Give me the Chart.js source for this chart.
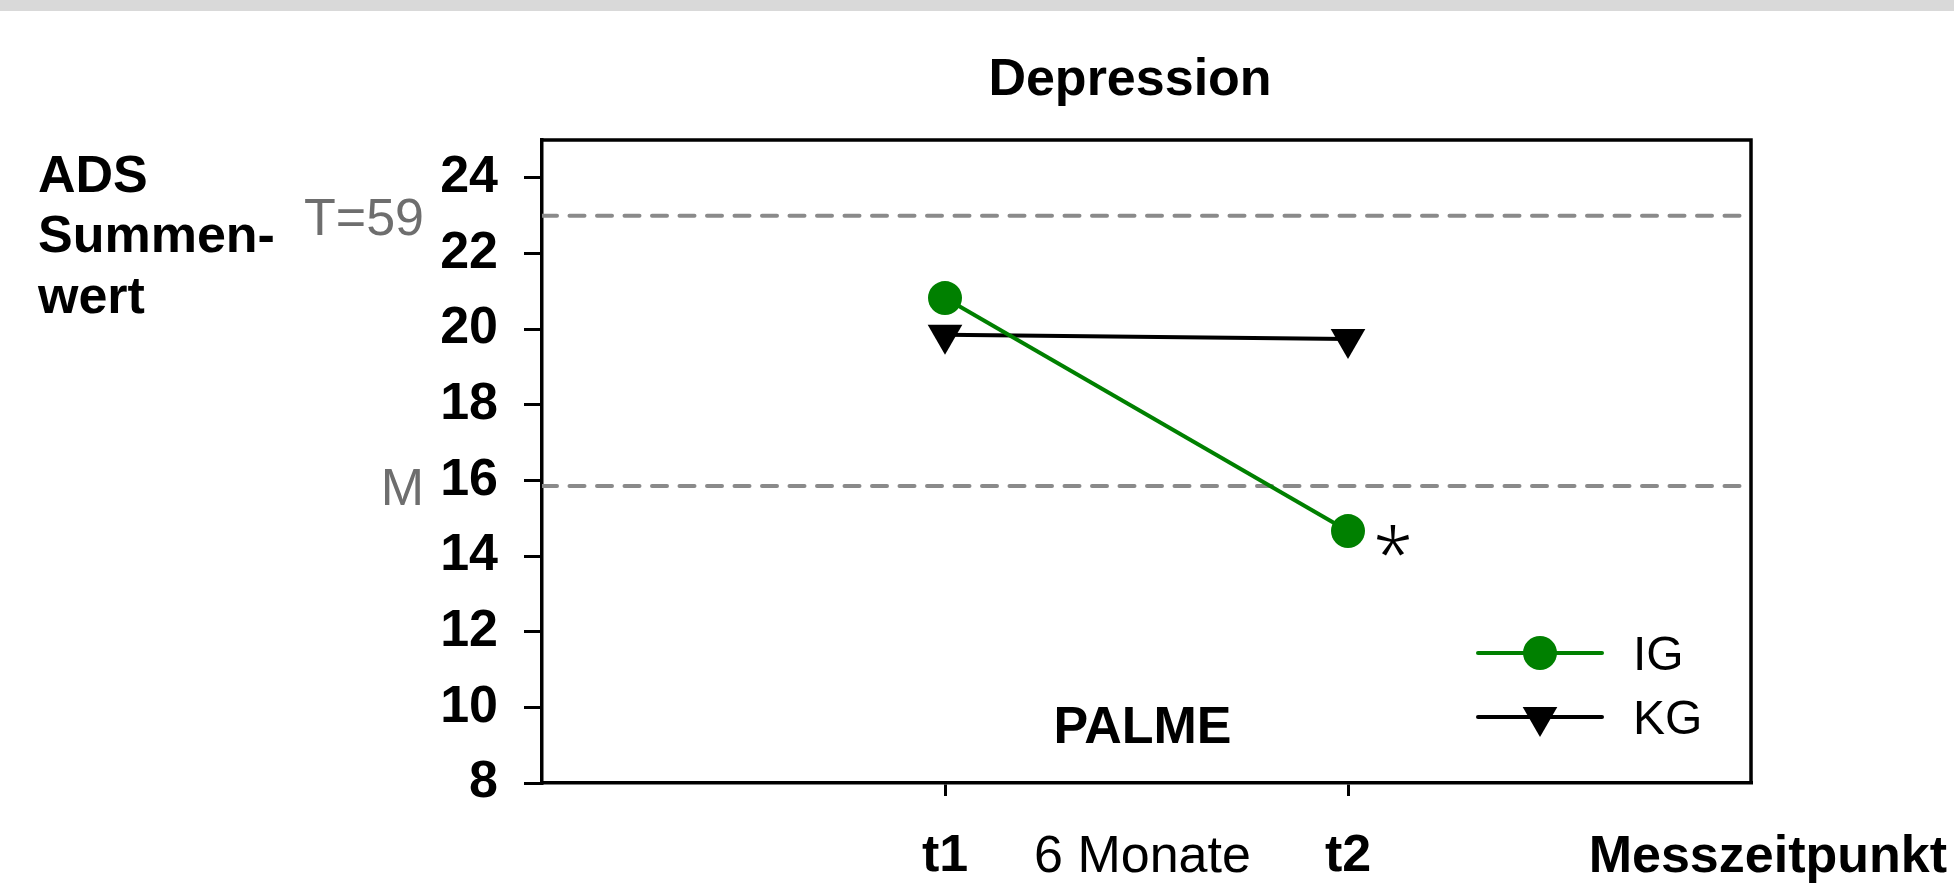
<!DOCTYPE html>
<html>
<head>
<meta charset="utf-8">
<script src="https://cdn.jsdelivr.net/npm/chart.js@4.4.1/dist/chart.umd.min.js"></script>
<style>
  html, body { margin: 0; padding: 0; background: #fff; }
  #wrap { width: 1954px; height: 892px; }
</style>
</head>
<body>
<div id="wrap"><canvas id="depressionChart" width="1954" height="892"></canvas></div>
<script>
// values
const X_POS = [1, 2];
const X_LABELS = ['t1', 't2'];
const IG_VALUES = [20.82, 14.66];
const KG_VALUES = [19.85, 19.74];
const Y_TICKS = [8, 10, 12, 14, 16, 18, 20, 22, 24];
const REF_VALUES = [23, 15.85];
const REF_LABELS = ['T=59', 'M'];
const SERIES_NAMES = ['IG', 'KG'];

const FONT = "'Liberation Sans', Arial, sans-serif";
const GREEN = '#008000';
const GREY_LINE = '#8a8a8a';
const GREY_TEXT = '#6e6e6e';

function pts(values) {
  return values.map((v, i) => ({x: X_POS[i], y: v}));
}

function text(ctx, str, x, y, size, bold, color, align) {
  ctx.save();
  ctx.font = (bold ? 'bold ' : '') + size + 'px ' + FONT;
  ctx.fillStyle = color || '#000';
  ctx.textAlign = align || 'left';
  ctx.textBaseline = 'alphabetic';
  ctx.fillText(str, x, y);
  ctx.restore();
}

// frame, texts and legend that the library does not draw by itself
const extras = {
  id: 'extras',
  beforeDraw(chart) {
    const ctx = chart.ctx;
    ctx.save();
    ctx.fillStyle = '#fff';
    ctx.fillRect(0, 0, chart.width, chart.height);
    ctx.fillStyle = '#d9d9d9';
    ctx.fillRect(0, 0, chart.width, 11);
    ctx.restore();
  },
  afterDraw(chart) {
    const ctx = chart.ctx;
    const a = chart.chartArea;
    const xs = chart.scales.x, ys = chart.scales.y;

    // top and right side of the box
    ctx.save();
    ctx.strokeStyle = '#000';
    ctx.lineWidth = 3.5;
    ctx.beginPath();
    ctx.moveTo(a.left, a.top);
    ctx.lineTo(a.right, a.top);
    ctx.lineTo(a.right, a.bottom);
    ctx.stroke();
    ctx.restore();

    text(ctx, 'Depression', 1130, 95, 52, true, '#000', 'center');
    text(ctx, 'ADS', 38, 192, 52, true);
    text(ctx, 'Summen-', 38, 252, 52, true);
    text(ctx, 'wert', 38, 313, 52, true);

    REF_LABELS.forEach((lab, i) => {
      text(ctx, lab, 424, ys.getPixelForValue(REF_VALUES[i]) + 19, 52, false, GREY_TEXT, 'right');
    });

    text(ctx, 'PALME', xs.getPixelForValue(1.49), 743, 52, true, '#000', 'center');
    text(ctx, '6 Monate', xs.getPixelForValue(1.49), 872, 52, false, '#000', 'center');
    text(ctx, 'Messzeitpunkt', 1947, 872, 52, true, '#000', 'right');

    // significance mark next to IG at t2
    ctx.save();
    ctx.font = "300 72px 'Noto Sans', " + FONT;
    const m = ctx.measureText('*');
    const cy = ys.getPixelForValue(IG_VALUES[1]) + 9;
    ctx.fillStyle = '#000';
    ctx.textAlign = 'center';
    ctx.fillText('*', xs.getPixelForValue(2) + 45, cy + (m.actualBoundingBoxAscent - m.actualBoundingBoxDescent) / 2);
    ctx.restore();

    // legend: line with marker through it
    const rows = [653, 717];
    chart.data.datasets.slice(0, 2).forEach((ds, i) => {
      const y = rows[i];
      ctx.save();
      ctx.strokeStyle = ds.borderColor;
      ctx.lineWidth = 4;
      ctx.lineCap = 'round';
      ctx.beginPath();
      ctx.moveTo(1478, y);
      ctx.lineTo(1602, y);
      ctx.stroke();
      ctx.fillStyle = ds.pointBackgroundColor;
      Chart.helpers.drawPoint(ctx, {
        pointStyle: ds.pointStyle, radius: ds.pointRadius, rotation: ds.pointRotation, borderWidth: 0
      }, 1540, y);
      ctx.restore();
      text(ctx, SERIES_NAMES[i], 1633, y + 17, 48, false, '#000', 'left');
    });
  }
};

const refSets = REF_VALUES.map(v => ({
  data: [{x: 0, y: v}, {x: 3, y: v}],
  borderColor: GREY_LINE,
  borderWidth: 4,
  borderDash: [15, 12.5],
  borderCapStyle: 'round',
  pointRadius: 0,
  order: 3
}));

new Chart('depressionChart', {
  type: 'line',
  data: {
    datasets: [
      {
        label: SERIES_NAMES[0],
        data: pts(IG_VALUES),
        borderColor: GREEN,
        backgroundColor: GREEN,
        pointBackgroundColor: GREEN,
        borderWidth: 4,
        pointStyle: 'circle',
        pointRadius: 17,
        pointRotation: 0,
        pointBorderWidth: 0,
        order: 1
      },
      {
        label: SERIES_NAMES[1],
        data: pts(KG_VALUES),
        borderColor: '#000',
        backgroundColor: '#000',
        pointBackgroundColor: '#000',
        borderWidth: 4,
        pointStyle: 'triangle',
        pointRadius: 20,
        pointRotation: 180,
        pointBorderWidth: 0,
        order: 1
      }
    ].concat(refSets)
  },
  options: {
    responsive: false,
    animation: false,
    devicePixelRatio: 1,
    layout: {padding: {left: 0, top: 140, right: 203, bottom: 0}},
    plugins: {legend: {display: false}, tooltip: {enabled: false}},
    scales: {
      x: {
        type: 'linear',
        min: 0,
        max: 3,
        afterBuildTicks: s => { s.ticks = X_POS.map(v => ({value: v})); },
        afterFit: s => { s.height = 109; },
        grid: {drawOnChartArea: false, drawTicks: true, tickLength: 13, color: '#000', lineWidth: 3},
        border: {display: true, color: '#000', width: 3.5},
        ticks: {
          padding: 29,
          color: '#000',
          maxRotation: 0,
          autoSkip: false,
          font: {family: FONT, size: 52, weight: 'bold'},
          callback: v => X_LABELS[X_POS.indexOf(v)] || ''
        }
      },
      y: {
        min: 8,
        max: 25,
        afterBuildTicks: s => { s.ticks = Y_TICKS.map(v => ({value: v})); },
        afterFit: s => { s.width = 542; },
        grid: {drawOnChartArea: false, drawTicks: true, tickLength: 18, color: '#000', lineWidth: 3},
        border: {display: true, color: '#000', width: 3.5},
        ticks: {
          padding: 26,
          color: '#000',
          font: {family: FONT, size: 52, weight: 'bold'}
        }
      }
    }
  },
  plugins: [extras]
});
</script>
</body>
</html>
